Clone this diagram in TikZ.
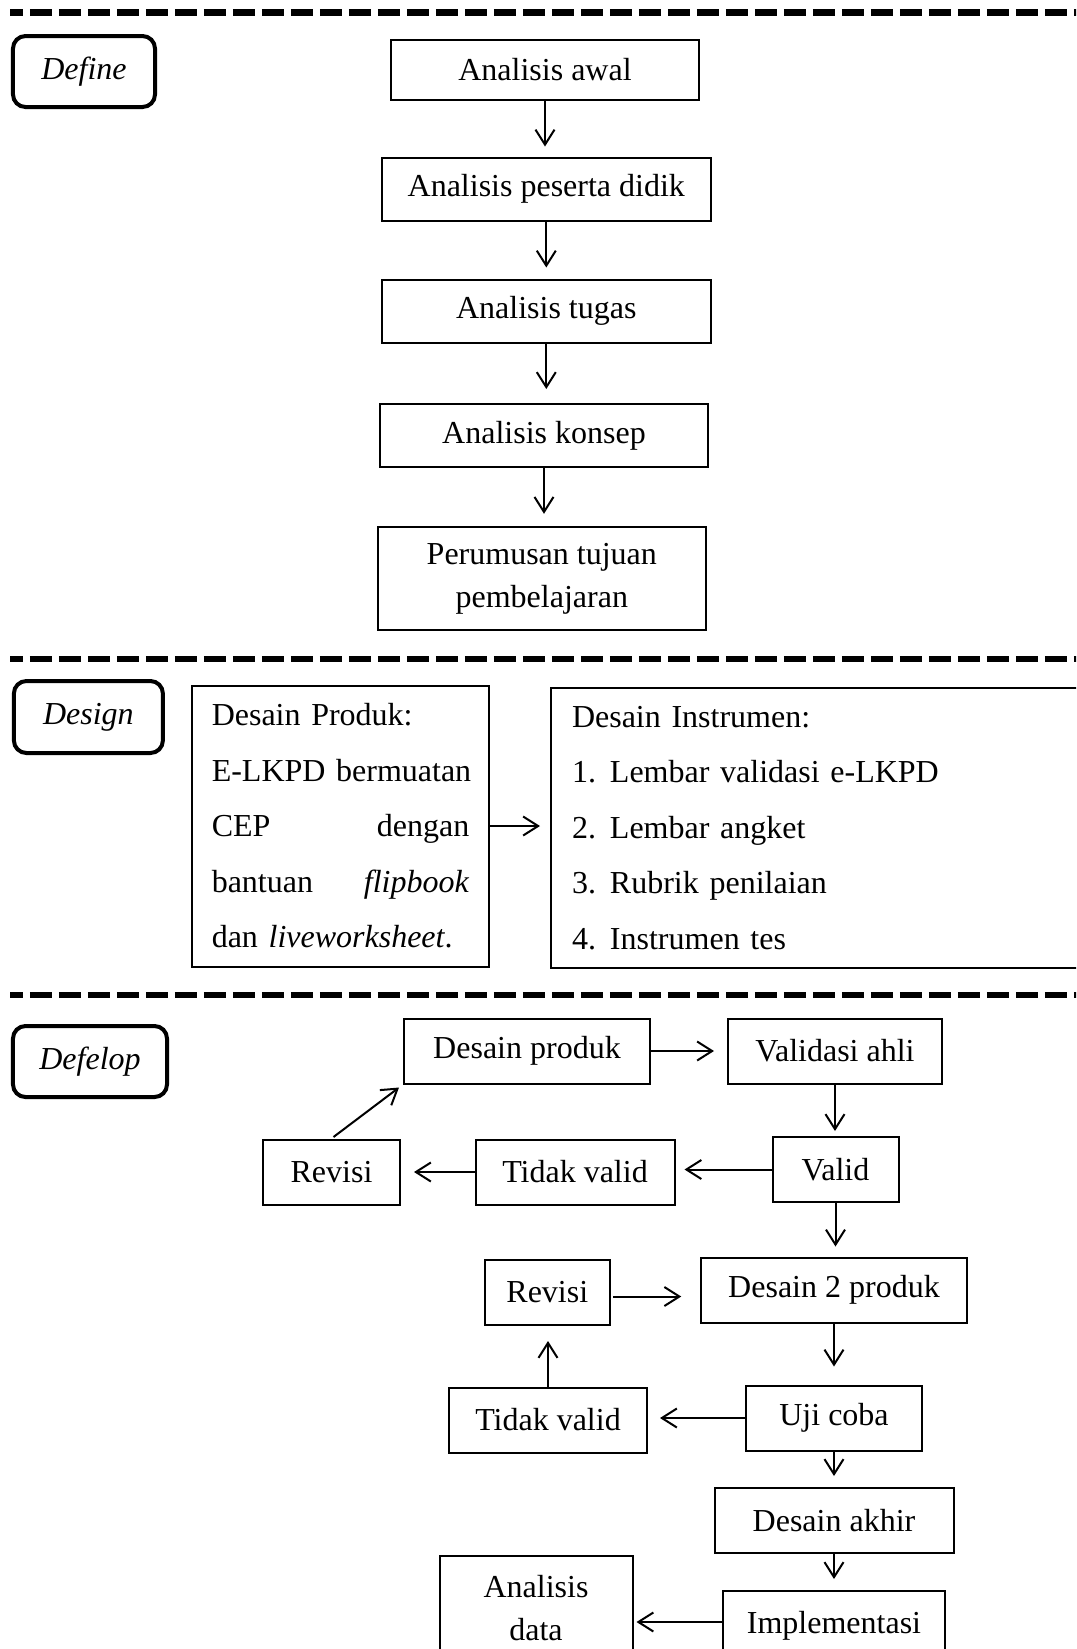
\documentclass[tikz,border=0pt]{standalone}
\usepackage{fontspec}
\setmainfont{Liberation Serif}
\usepackage{tikz}
\usetikzlibrary{arrows.meta}
\usetikzlibrary{calc}
\tikzset{stepbox/.style={draw,line width=0.8pt,inner sep=0pt,minimum height=25.2pt,align=center}}
\tikzset{phase/.style={draw,line width=1.6pt,rounded corners=5pt,inner sep=0pt,minimum height=28.4pt,font=\fontsize{12.8}{17.2}\selectfont\itshape}}
\tikzset{sepline/.style={line width=2.6pt,dash pattern=on 8.8pt off 2.8pt,dash phase=3.7pt}}

\begin{document}
\begin{tikzpicture}[
  x=0.4pt, y=-0.4pt,
  font=\fontsize{12.8}{17.2}\selectfont,
  link/.style={-{Straight Barb[length=6pt,width=7.6pt]},line width=0.8pt,shorten >=4.4pt}]

  \useasboundingbox (0,0) rectangle (1076,1649);
  \clip (0,0) rectangle (1076,1649);

  % separator lines
  \draw[sepline] (10,12.5) -- (1080,12.5);
  \draw[sepline] (10,659) -- (1080,659);
  \draw[sepline] (10,995) -- (1080,995);

  % Define
  \node[phase,minimum width=56.8pt] (define) at (84,71.5) {Define};
  \node[stepbox,minimum width=123.2pt,minimum height=24pt] (aawal) at (545,69.7) {Analisis awal};
  \node[stepbox,minimum width=131.4pt] (apeserta) at (546.3,189) {Analisis peserta didik};
  \node[stepbox,minimum width=131.4pt] (atugas) at (546.3,311) {Analisis tugas};
  \node[stepbox,minimum width=131.4pt] (akonsep) at (544,435.5) {Analisis konsep};
  \node[stepbox,minimum width=131.4pt,minimum height=41.2pt] (perumusan) at (541.8,578.3) {Perumusan tujuan\\pembelajaran};

  \draw[link,shorten >=4pt] (aawal) -- (aawal.south |- apeserta.north);
  \draw[link] (apeserta) -- (apeserta.south |- atugas.north);
  \draw[link,shorten >=5.6pt] (atugas) -- (atugas.south |- akonsep.north);
  \draw[link,shorten >=4.8pt] (akonsep) -- (akonsep.south |- perumusan.north);

  % Design
  \node[phase,minimum width=59.6pt,minimum height=28.8pt] (design) at (88.4,717) {Design};
  \node[stepbox,align=left,text width=103pt,inner xsep=7.9pt,minimum height=112.4pt,
    font=\fontsize{12.8}{22.2}\selectfont] (produk) at (340.5,826) {Desain Produk:\\
    \mbox{E-LKPD bermuatan}\\
    CEP \hfill dengan\\
    bantuan \hfill \textit{flipbook}\\
    dan \textit{liveworksheet}.};
  \node[stepbox,anchor=north west,align=left,text width=230pt,inner xsep=8.4pt,minimum height=111.8pt,
    font=\fontsize{12.8}{22.2}\selectfont] (instrumen) at (550,687) {Desain Instrumen:\\
    \makebox[15.2pt][l]{1.}Lembar validasi e-LKPD\\
    \makebox[15.2pt][l]{2.}Lembar angket\\
    \makebox[15.2pt][l]{3.}Rubrik penilaian\\
    \makebox[15.2pt][l]{4.}Instrumen tes};

  \draw[link,shorten >=4pt] (produk) -- (produk.east -| instrumen.west);

  % Defelop
  \node[phase,minimum width=61.6pt] (defelop) at (90,1061.5) {Defelop};
  \node[stepbox,minimum width=98.4pt,minimum height=26pt] (dproduk) at (527,1051) {Desain produk};
  \node[stepbox,minimum width=85.6pt,minimum height=26pt] (vahli) at (835,1051) {Validasi ahli};
  \node[stepbox,minimum width=50.4pt,minimum height=26pt] (valid) at (835.5,1169.5) {Valid};
  \node[stepbox,minimum width=79.6pt,minimum height=26pt] (tvalidA) at (575,1172) {Tidak valid};
  \node[stepbox,minimum width=54.8pt,minimum height=26pt] (revisiA) at (331.5,1172) {Revisi};
  \node[stepbox,minimum width=106.2pt,minimum height=26pt] (duaproduk) at (834,1290) {Desain 2 produk};
  \node[stepbox,minimum width=50pt,minimum height=26pt] (revisiB) at (547.3,1292.5) {Revisi};
  \node[stepbox,minimum width=70.4pt,minimum height=26pt] (ujicoba) at (834,1418) {Uji coba};
  \node[stepbox,minimum width=79.2pt,minimum height=26pt] (tvalidB) at (548,1420) {Tidak valid};
  \node[stepbox,minimum width=95.6pt,minimum height=26pt] (dakhir) at (834,1520.5) {Desain akhir};
  \node[stepbox,minimum width=88.8pt,minimum height=28pt] (impl) at (834,1626) {Implementasi};
  \node[stepbox,minimum width=77.2pt,minimum height=42.4pt] (adata) at (536,1608.5) {Analisis\\data};

  \draw[link,shorten >=5.2pt] (dproduk) -- (dproduk.east -| vahli.west);
  \draw[link,shorten >=2pt] (vahli) -- (vahli.south |- valid.north);
  \draw[link,shorten >=3.6pt] (valid) -- (valid.west -| tvalidA.east);
  \draw[link,shorten >=5.2pt] (tvalidA) -- (tvalidA.west -| revisiA.east);
  \draw[link,shorten <=1pt,shorten >=2pt] (revisiA.north) -- (dproduk.south west);
  \draw[link,shorten >=4pt] (valid) -- (valid.south |- duaproduk.north);
  \draw[link,shorten <=0.8pt,shorten >=7.6pt] ($(revisiB.east)+(0,4)$) -- ($(revisiB.east -| duaproduk.west)+(0,4)$);
  \draw[link,shorten >=7.2pt] (duaproduk) -- (duaproduk.south |- ujicoba.north);
  \draw[link,shorten >=4.8pt] (ujicoba) -- (ujicoba.west -| tvalidB.east);
  \draw[link,shorten >=6pt] (tvalidB) -- (tvalidB.north |- revisiB.south);
  \draw[link] (ujicoba) -- (ujicoba.south |- dakhir.north);
  \draw[link] (dakhir) -- (dakhir.south |- impl.north);
  \draw[link,shorten >=1.2pt] ($(impl.west)+(0,-4)$) -- ($(impl.west -| adata.east)+(0,-4)$);
\end{tikzpicture}
\end{document}
